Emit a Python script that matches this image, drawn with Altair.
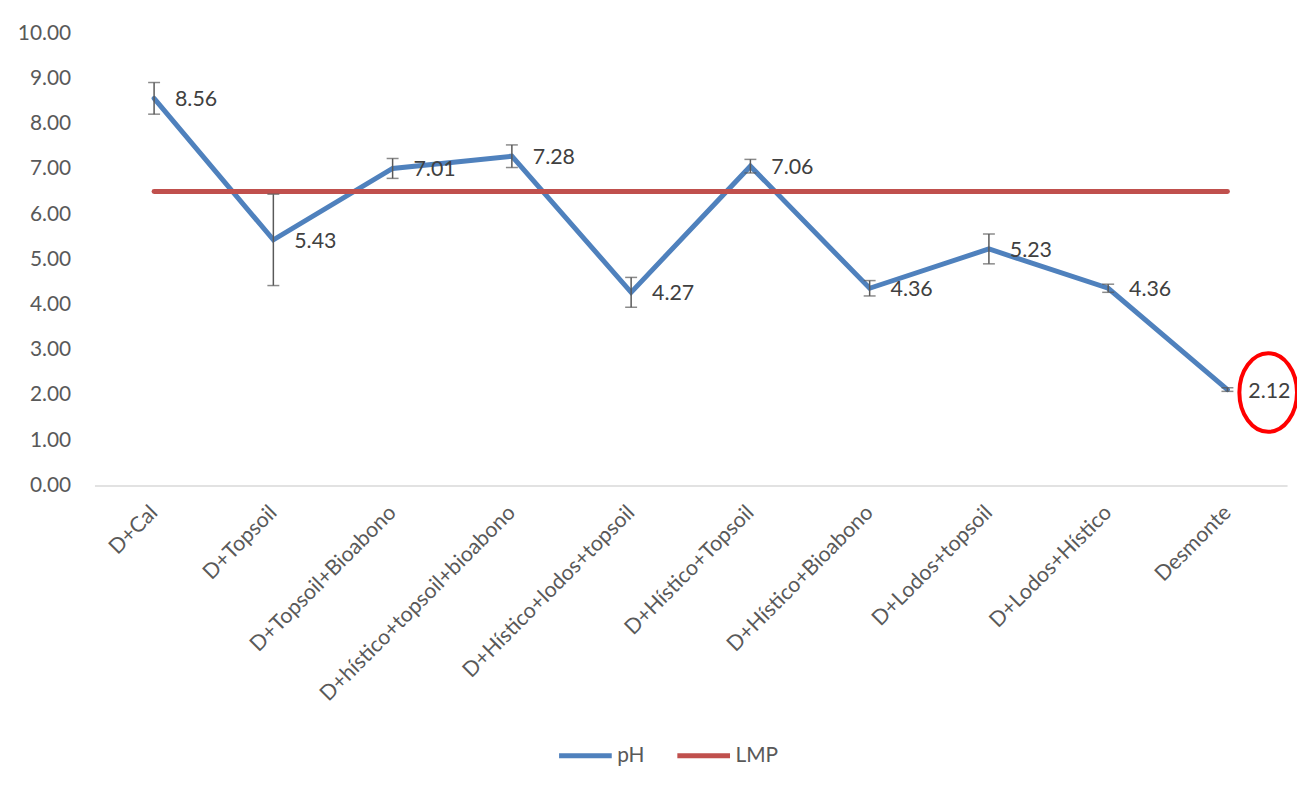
import altair as alt
import pandas as pd

categories = ["D+Cal", "D+Topsoil", "D+Topsoil+Bioabono", "D+hístico+topsoil+bioabono",
              "D+Hístico+lodos+topsoil", "D+Hístico+Topsoil", "D+Hístico+Bioabono",
              "D+Lodos+topsoil", "D+Lodos+Hístico", "Desmonte"]
ph_values = [8.56, 5.43, 7.01, 7.28, 4.27, 7.06, 4.36, 5.23, 4.36, 2.12]
ph_errors = [0.35, 1.01, 0.22, 0.25, 0.33, 0.15, 0.17, 0.33, 0.09, 0.04]
lmp_values = [6.5] * 10
y_ticks = [0, 1, 2, 3, 4, 5, 6, 7, 8, 9, 10]
highlight = ["Desmonte"]

FONT = "Lato"
BLUE = "#4F81BD"
RED = "#C0504D"

df = pd.DataFrame({
    "cat": categories,
    "pH": ph_values,
    "lo": [v - e for v, e in zip(ph_values, ph_errors)],
    "hi": [v + e for v, e in zip(ph_values, ph_errors)],
    "LMP": lmp_values,
})

x_enc = alt.X("cat:N", sort=categories, title=None,
              scale=alt.Scale(type="point", padding=0.5),
              axis=alt.Axis(labelAngle=-45, labelAlign="right", labelBaseline="middle",
                            labelPadding=24, labelFont=FONT, labelFontSize=21.5,
                            labelColor="#595959", ticks=False, domainColor="#D9D9D9",
                            domainWidth=1.5, grid=False, labelLimit=500))
y_scale = alt.Scale(domain=[0, 10], nice=False)
y_axis = alt.Axis(values=y_ticks, format=".2f", labelFont=FONT, labelFontSize=21,
                  labelColor="#595959", ticks=False, domain=False, grid=False,
                  labelPadding=24, title=None)

color_scale = alt.Scale(domain=["pH", "LMP"], range=[BLUE, RED])
legend = alt.Legend(title=None, orient="none", legendX=465, legendY=698, direction="horizontal",
                    symbolType="stroke", symbolSize=2809, symbolStrokeWidth=5,
                    labelFont=FONT, labelFontSize=21, labelColor="#595959",
                    columnPadding=22, labelOffset=3)

base = alt.Chart(df)

ph_line = base.transform_calculate(series="'pH'").mark_line(strokeWidth=5, strokeCap="round").encode(
    x=x_enc, y=alt.Y("pH:Q", scale=y_scale, axis=y_axis),
    color=alt.Color("series:N", scale=color_scale, legend=legend))

lmp_line = base.transform_calculate(series="'LMP'").mark_line(strokeWidth=5, strokeCap="round").encode(
    x=alt.X("cat:N", sort=categories), y=alt.Y("LMP:Q"),
    color=alt.Color("series:N", scale=color_scale, legend=legend))

err_rule = base.mark_rule(color="#595959", strokeWidth=1.5).encode(
    x=alt.X("cat:N", sort=categories), y="lo:Q", y2="hi:Q")
cap_hi = base.mark_tick(color="#595959", size=12, thickness=1.5).encode(
    x=alt.X("cat:N", sort=categories), y="hi:Q")
cap_lo = base.mark_tick(color="#595959", size=12, thickness=1.5).encode(
    x=alt.X("cat:N", sort=categories), y="lo:Q")

labels = base.mark_text(align="left", baseline="middle", dx=21, dy=2, font=FONT,
                        fontSize=21.5, color="#404040").encode(
    x=alt.X("cat:N", sort=categories), y="pH:Q", text=alt.Text("pH:Q", format=".2f"))

ellipse_path = "M -0.734 0 A 0.734 1 0 1 1 0.734 0 A 0.734 1 0 1 1 -0.734 0 Z"
circle = base.transform_filter(alt.FieldOneOfPredicate(field="cat", oneOf=highlight)).mark_point(
    shape=ellipse_path, size=6241, filled=False, stroke="#FF0000", strokeWidth=4,
    opacity=1, xOffset=41, yOffset=3).encode(
    x=alt.X("cat:N", sort=categories), y="pH:Q")

chart = alt.layer(ph_line, lmp_line, err_rule, cap_hi, cap_lo, labels, circle).properties(
    width=1200, height=455,
    background="white",
    autosize=alt.AutoSizeParams(type="none"),
    padding={"left": 87, "top": 23, "right": 10, "bottom": 290},
).configure_view(stroke=None)

chart.save("out.html", embed_options={"renderer": "svg", "actions": False})
